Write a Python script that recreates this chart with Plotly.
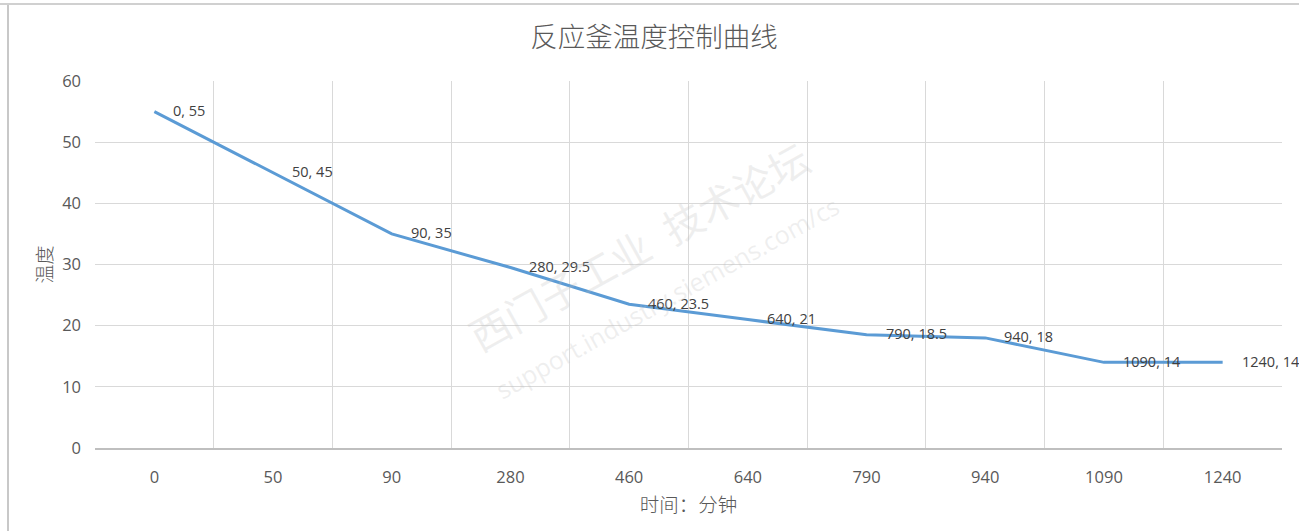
import plotly.graph_objects as go

# Data
minutes = ["0", "50", "90", "280", "460", "640", "790", "940", "1090", "1240"]
temps = [55, 45, 35, 29.5, 23.5, 21, 18.5, 18, 14, 14]
y_ticks = [0, 10, 20, 30, 40, 50, 60]

title_text = "反应釜温度控制曲线"
x_title = "时间：分钟"
y_title = "温度"

W, H = 1299, 531
L, R, T, B = 95, 17, 81, 83

font_num = "Open Sans, Noto Sans CJK SC, sans-serif"
font_cjk = "Noto Sans CJK SC, sans-serif"

fig = go.Figure()
fig.add_trace(go.Scatter(
    x=minutes, y=temps, mode="lines",
    line=dict(color="#5B9BD5", width=3),
    hoverinfo="x+y", showlegend=False,
))

annotations = []
for i, (m, t) in enumerate(zip(minutes, temps)):
    annotations.append(dict(
        x=i, y=t, xref="x", yref="y",
        text=f"{m}, {t:g}", showarrow=False,
        xanchor="left", yanchor="middle", xshift=17, yshift=1,
        font=dict(family=font_num, size=14.5, color="#404040"),
    ))

pw, ph = W - L - R, H - T - B
def px(xp):
    return (xp - L) / pw
def py(yp):
    return 1 - (yp - T) / ph

# watermark
annotations.append(dict(
    x=px(650), y=py(268),
    xref="paper", yref="paper",
    text="西门子工业  技术论坛<br><span style='font-size:25px'>support.industry.siemens.com/cs</span>",
    showarrow=False, textangle=-29,
    font=dict(family=font_num, size=40, color="rgba(190,190,190,0.25)"),
))

fig.update_layout(
    width=W, height=H,
    margin=dict(l=L, r=R, t=T, b=B),
    paper_bgcolor="white", plot_bgcolor="white",
    title=dict(text=title_text, x=654 / W, xref="container", xanchor="center",
               y=1 - 37 / H, yref="container", yanchor="middle",
               font=dict(family=font_cjk, size=27.5, color="#595959", weight=300)),
    annotations=annotations,
    xaxis=dict(
        type="category", tickson="boundaries",
        range=[-0.5, len(minutes) - 0.5],
        showgrid=True, gridcolor="#D9D9D9", gridwidth=1.2,
        showline=True, linecolor="#BFBFBF", linewidth=1.5,
        ticks="", ticklabelstandoff=13,
        tickfont=dict(family=font_num, size=16.5, color="#595959"),
        title=dict(text=x_title, standoff=12,
                   font=dict(family=font_cjk, size=19.5, color="#595959", weight=300)),
        zeroline=False, fixedrange=True,
    ),
    yaxis=dict(
        range=[0, 60], tickvals=y_ticks,
        showgrid=True, gridcolor="#D9D9D9", gridwidth=1.2,
        showline=False, zeroline=False,
        ticks="", ticklabelstandoff=13,
        tickfont=dict(family=font_num, size=16.5, color="#595959"),
        title=dict(text=y_title, standoff=4,
                   font=dict(family=font_cjk, size=19, color="#595959", weight=300)),
        fixedrange=True,
    ),
)

# chart-area border remnants (spreadsheet frame)
fig.add_shape(type="line", xref="paper", yref="paper",
              x0=px(8), x1=px(8), y0=py(5), y1=py(H), line=dict(color="#C8C8C8", width=2))
fig.add_shape(type="line", xref="paper", yref="paper",
              x0=px(0), x1=px(W), y0=py(4), y1=py(4), line=dict(color="#D0D0D0", width=2))

fig.write_html("out.html", config={"displayModeBar": False},
               post_script="document.body.style.margin='0';document.body.style.overflow='hidden';")
